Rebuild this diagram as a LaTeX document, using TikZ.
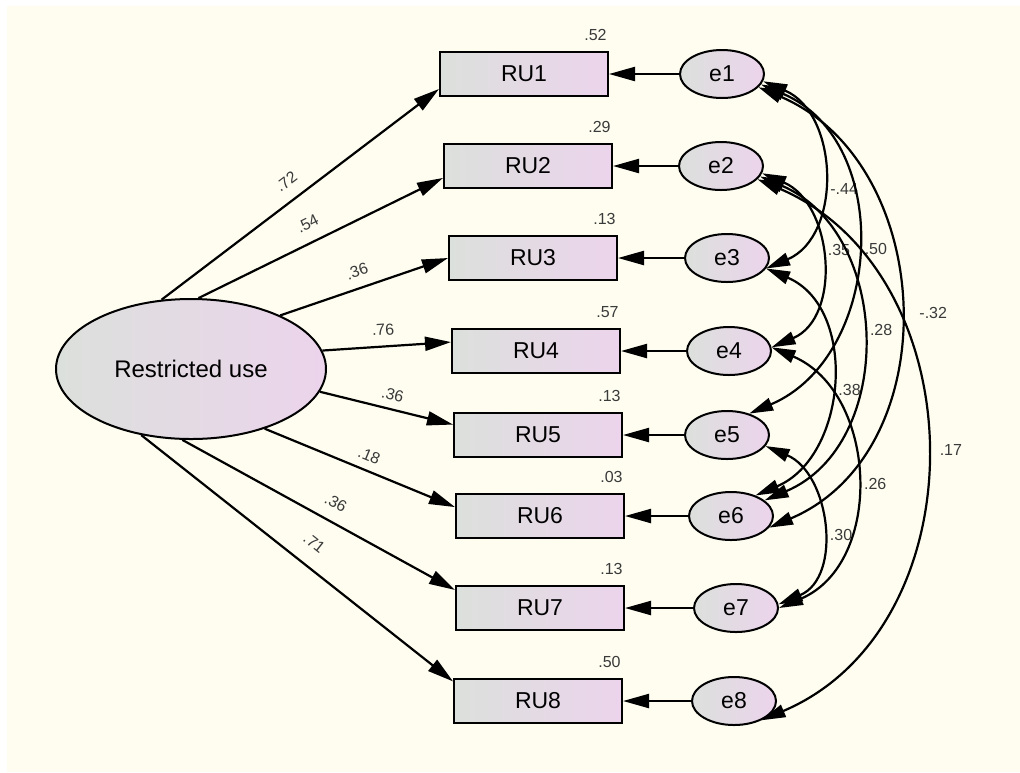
\documentclass[tikz,border=0pt]{standalone}
\usepackage{fontspec}
\setmainfont{Liberation Sans}
\usetikzlibrary{positioning, arrows.meta, shapes.geometric}
\definecolor{cream}{HTML}{FEFDF0}
\definecolor{boxgray}{HTML}{DCE0DC}
\definecolor{boxpink}{HTML}{ECD4EC}
\definecolor{numgray}{HTML}{3A3A3A}

\begin{document}
\begin{tikzpicture}[x=0.5pt, y=0.5pt,
  every node/.style={font=\fontsize{11.5}{13}\selectfont},
  obs/.style={draw, line width=1pt, rectangle, minimum width=84pt, minimum height=22pt,
              inner sep=0pt, left color=boxgray, right color=boxpink},
  err/.style={draw, line width=1pt, ellipse, minimum width=42pt, minimum height=24pt,
              inner sep=0pt, left color=boxgray, right color=boxpink},
  num/.style={font=\fontsize{8}{9}\selectfont, text=numgray, inner sep=1pt},
  loading/.style={line width=1.1pt, -{Triangle[length=13pt, width=7pt]}},
  cov/.style={line width=1.1pt, {Triangle[length=12pt, width=6.5pt]}-{Triangle[length=12pt, width=6.5pt]},
              out=-23, in=23, looseness=1.13}]
  % canvas (pixel grid of the figure, y downwards)
  \useasboundingbox (0,0) rectangle (1020,-772);
  \fill[white] (0,0) rectangle (1020,-772);
  \fill[cream] (7,-6) rectangle (1020,-772);
  % latent factor
  \node[draw, ellipse, line width=1pt, minimum width=135pt, minimum height=70pt, inner sep=0pt,
        left color=boxgray, right color=boxpink, font=\fontsize{12}{14}\selectfont]
        (restr) at (191,-369) {Restricted use};
  % indicators and their errors
  \foreach \i/\xx/\yy/\ex in {1/524/74/722, 2/528/166/721, 3/533/258/727, 4/536/351/729,
                              5/538/435/727, 6/540/516/731, 7/540/608/736, 8/538/701/734}{
    \node[obs] (ru\i) at (\xx,-\yy) {RU\i};
    \node[err] (e\i) at (\ex,0 |- ru\i) {e\i};
    \draw[loading] (e\i) -- (ru\i);
  }
  % squared multiple correlations
  \foreach \i/\v in {1/.52, 2/.29, 3/.13, 4/.57, 5/.13, 6/.03, 7/.13, 8/.50}
    \node[num, above left=4pt and 0pt of ru\i.north east] (r\i) {\v};
  % standardized loadings
  \foreach \i/\a/\b/\p/\d/\v in {1/113/190/.49/5pt/.72, 2/84/188/.48/5pt/.54, 3/31/180/.49/4pt/.36,
                                 4/8/174/.48/4pt/.76, 5/-10/173/.52/3pt/.36, 6/-39/174/.52/3pt/.18,
                                 7/-97/168/.53/5pt/.36, 8/-127/167/.51/7pt/.71}
    \draw[loading] (restr.\a) -- node[num, sloped, above=\d, pos=\p] (w\i) {\v} (ru\i.\b);
  % error covariances
  \foreach \s/\t/\v/\p/\o [count=\k] in {e1.-10/e3.-15/-.44/.56/3pt, e2.-10/e4.5/.35/.45/3pt,
                                         e1.-15/e5.44/.50/.5/3pt, e1.-20/e6.-17/-.32/.51/9pt,
                                         e2.-15/e6.25/.28/.48/3pt, e2.-20/e8.-35/.17/.5/6pt,
                                         e3.-15/e6.40/.38/.53/3pt, e4.5/e7.0/.26/.52/3pt,
                                         e5.-16/e7.5/.30/.55/3pt}
    \draw[cov] (\s) to node[num, right=\o, pos=\p] (c\k) {\v} (\t);
\end{tikzpicture}
\end{document}
